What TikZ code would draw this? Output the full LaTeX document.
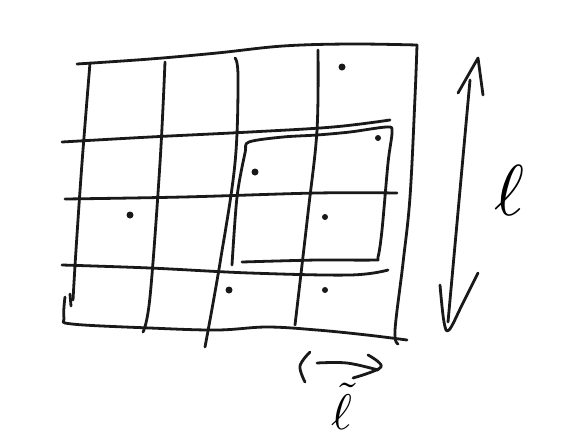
\documentclass[tikz,border=0pt]{standalone}
\usepackage{amsmath}
\begin{document}
\begin{tikzpicture}[x=1pt,y=-1pt,
  ink/.style={line width=2.8pt,line cap=round,line join=round,black!90},
  dot/.style={circle,fill=black!90,inner sep=0pt,minimum size=7pt}]
\useasboundingbox[fill=white] (0,0) rectangle (572,437);
% outer box
\draw[ink] plot[smooth,tension=0.6] coordinates {(77,64) (150,59) (217,53) (283,46) (350,44) (417,45)};
\draw[ink] plot[smooth,tension=0.6] coordinates {(417,45) (415,97) (410,197) (403,263) (395,330) (398,344)};
\draw[ink] plot[smooth,tension=0.6] coordinates {(90,63) (82,163) (76,250) (73,300)};
\draw[ink] (70,294) -- (71,306);
\draw[ink] plot[smooth,tension=0.6] coordinates {(65,297) (64,318) (72,324) (150,328) (217,330) (267,327) (317,330) (367,335) (407,340)};
% vertical lines
\draw[ink] plot[smooth,tension=0.6] coordinates {(165,62) (160,163) (150,297) (143,332)};
\draw[ink] plot[smooth,tension=0.6] coordinates {(235,58) (238,77) (235,163) (220,263) (205,347)};
\draw[ink] plot[smooth,tension=0.6] coordinates {(318,50) (317,130) (308,213) (295,325)};
% horizontal lines
\draw[ink] plot[smooth,tension=0.6] coordinates {(62,142) (150,137) (250,132) (333,127) (390,120)};
\draw[ink] plot[smooth,tension=0.6] coordinates {(65,199) (183,197) (317,193) (397,193)};
\draw[ink] plot[smooth,tension=0.6] coordinates {(62,265) (150,268) (250,273) (350,275) (388,270)};
% inner square
\draw[ink] plot[smooth,tension=0.5] coordinates {(232,265) (237,197) (245,153) (249,142) (283,137) (317,135) (350,132) (387,127) (392,132) (388,163) (382,230) (378,257) (373,260) (317,260) (242,262)};
% dots
\node[dot] (d1) at (342,67) {};
\node[dot,minimum size=6pt] (d2) at (378,138) {};
\node[dot] (d3) at (255,172) {};
\node[dot] (d4) at (130,215) {};
\node[dot,minimum size=6pt] (d5) at (325,217) {};
\node[dot] (d6) at (229,290) {};
\node[dot,minimum size=6pt] (d7) at (325,290) {};
% right double arrow
\coordinate (at) at (470,80);
\coordinate (ab) at (448,322);
\draw[ink] (at) -- (ab);
\draw[ink] (458,93) -- (478,58) -- (483,95);
\draw[ink] plot[smooth,tension=0.6] coordinates {(440,285) (444,322) (449,330) (462,305) (478,273)};
\node[scale=7.2,inner sep=0pt] (L) at (509,190) {$\ell$};
% bottom small arrow
\coordinate (bl) at (317,363);
\coordinate (br) at (378,370);
\draw[ink] plot[smooth,tension=0.6] coordinates {(310,352) (300,366) (305,382)};
\draw[ink] plot[smooth,tension=0.6] coordinates {(bl) (347,363) (br)};
\draw[ink] plot[smooth,tension=0.6] coordinates {(368,355) (381,367) (353,378)};
\node[scale=5,inner sep=0pt] (Lt) at (342,406) {$\tilde{\ell}$};
\end{tikzpicture}
\end{document}
